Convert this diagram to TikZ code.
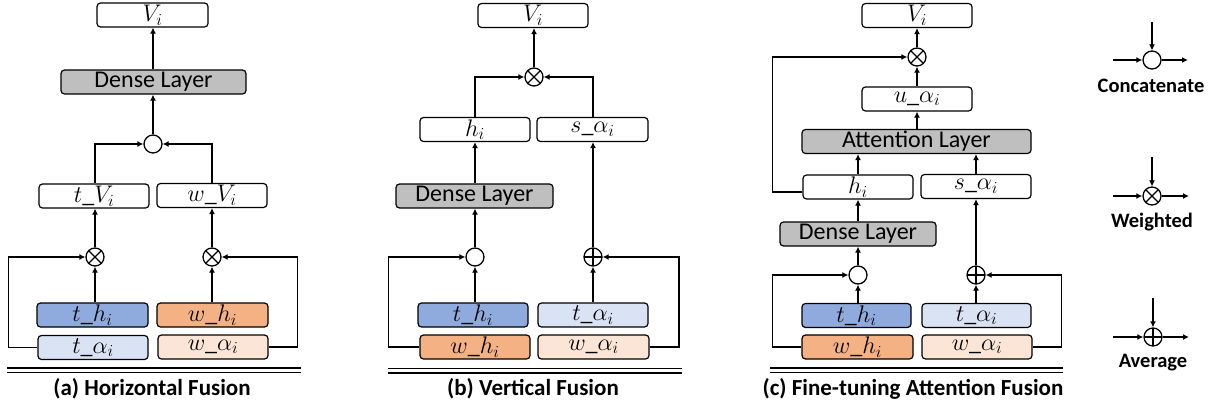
\RequirePackage{fix-cm}
\documentclass[tikz,border=0pt]{standalone}
\usepackage{fontspec}
\setmainfont{Carlito}
\usetikzlibrary{arrows.meta,calc}
\definecolor{thc}{HTML}{8FAADC}
\definecolor{whc}{HTML}{F4B183}
\definecolor{tac}{HTML}{DAE3F3}
\definecolor{wac}{HTML}{FBE5D6}
\definecolor{dlc}{HTML}{BFBFBF}
\tikzset{
  bx/.style={draw, line width=1.2pt, rounded corners=3.5pt, minimum height=24pt, inner sep=0pt, fill=white,
    font=\fontsize{24}{24}\selectfont},
  op/.style={draw, circle, line width=1.3pt, minimum size=18pt, inner sep=0pt, fill=white},
  wt/.style={op, path picture={\draw[line width=1.3pt] (path picture bounding box.north west) -- (path picture bounding box.south east) (path picture bounding box.north east) -- (path picture bounding box.south west);}},
  av/.style={op, path picture={\draw[line width=1.3pt] (path picture bounding box.north) -- (path picture bounding box.south) (path picture bounding box.east) -- (path picture bounding box.west);}},
  arr/.style={line width=1.5pt, -{Latex[length=6pt,width=6pt]}},
  captxt/.style={font=\bfseries\fontsize{23}{23}\selectfont},
  legtxt/.style={font=\bfseries\fontsize{20.5}{20.5}\selectfont},
  dbl/.style={line width=1.3pt},
}
\begin{document}
\begin{tikzpicture}[x=1pt,y=-1pt]
\useasboundingbox (0,0) rectangle (1217,410);

% ===== (a) Horizontal Fusion =====
\node[bx, minimum width=111pt] (Va) at (152.5,15) {$V_i$};
\node[bx, minimum width=185pt, fill=dlc] (densea) at (153.5,82) {Dense Layer};
\node[op] (ca) at (153,144) {};
\node[bx, minimum width=110pt] (tVa) at (94,196) {$t\_V_i$};
\node[bx, minimum width=110pt] (wVa) at (212,195.5) {$w\_V_i$};
\node[wt] (xa1) at (95,257) {};
\node[wt] (xa2) at (212,257) {};
\node[bx, minimum width=111pt, fill=thc] (tha) at (92.5,315) {$t\_h_i$};
\node[bx, minimum width=111pt, fill=whc] (wha) at (212.5,315) {$w\_h_i$};
\node[bx, minimum width=110pt, fill=tac] (taa) at (93,347.5) {$t\_\alpha_i$};
\node[bx, minimum width=110pt, fill=wac] (waa) at (213,347) {$w\_\alpha_i$};

\draw[arr] (xa1 |- tha.north) -- (xa1);
\draw[arr] (xa2 |- wha.north) -- (xa2);
\draw[arr] (xa1) -- (xa1 |- tVa.south);
\draw[arr] (xa2) -- (xa2 |- wVa.south);
\draw[arr] (taa.west) -- ++(-29,0) |- (xa1);
\draw[arr] (waa.east) -- ++(29,0) |- (xa2);
\draw[arr] (xa1 |- tVa.north) |- (ca);
\draw[arr] (xa2 |- wVa.north) |- (ca);
\draw[arr] (ca) -- (ca |- densea.south);
\draw[arr] (ca |- densea.north) -- (ca |- Va.south);

\coordinate (la1) at (7,368); \coordinate (la2) at (301,368);
\draw[dbl] (la1) -- (la2);
\draw[dbl] ($(la1)+(0,4.5)$) -- ($(la2)+(0,4.5)$);
\node[captxt] (capa) at (152,389) {(a) Horizontal Fusion};

% ===== (b) Vertical Fusion =====
\node[bx, minimum width=110pt] (Vb) at (533,15.5) {$V_i$};
\node[wt] (xb) at (534,77) {};
\node[bx, minimum width=110pt] (hb) at (475,129.5) {$h_i$};
\node[bx, minimum width=111pt] (sb) at (592.5,129.5) {$s\_\alpha_i$};
\node[bx, minimum width=157pt, fill=dlc] (denseb) at (474.5,196) {Dense Layer};
\node[op] (cb) at (475,257) {};
\node[av] (ab) at (593,257) {};
\node[bx, minimum width=110pt, fill=thc] (thb) at (473,315) {$t\_h_i$};
\node[bx, minimum width=110pt, fill=tac] (tab) at (593,315) {$t\_\alpha_i$};
\node[bx, minimum width=110pt, fill=whc] (whb) at (475,347) {$w\_h_i$};
\node[bx, minimum width=111pt, fill=wac] (wab) at (593.5,347) {$w\_\alpha_i$};

\draw[arr] (cb |- thb.north) -- (cb);
\draw[arr] (ab |- tab.north) -- (ab);
\draw[arr] (whb.west) -- ++(-31,0) |- (cb);
\draw[arr] (wab.east) -- ++(29.5,0) |- (ab);
\draw[arr] (cb) -- (cb |- denseb.south);
\draw[arr] (ab) -- (ab |- sb.south);
\draw[arr] (cb |- denseb.north) -- (cb |- hb.south);
\draw[arr] (cb |- hb.north) |- (xb);
\draw[arr] (ab |- sb.north) |- (xb);
\draw[arr] (xb) -- (xb |- Vb.south);

\coordinate (lb1) at (388,368.5); \coordinate (lb2) at (682,368.5);
\draw[dbl] (lb1) -- (lb2);
\draw[dbl] ($(lb1)+(0,4.5)$) -- ($(lb2)+(0,4.5)$);
\node[captxt] (capb) at (533,389) {(b) Vertical Fusion};

% ===== (c) Fine-tuning Attention Fusion =====
\node[bx, minimum width=110pt] (Vc) at (917,15.5) {$V_i$};
\node[wt] (xc) at (917,57) {};
\node[bx, minimum width=110pt] (uc) at (917,99) {$u\_\alpha_i$};
\node[bx, minimum width=229pt, fill=dlc] (attc) at (916.5,141.5) {Attention Layer};
\node[bx, minimum width=110pt] (hc) at (858,187) {$h_i$};
\node[bx, minimum width=110pt] (sc) at (976,186.5) {$s\_\alpha_i$};
\node[bx, minimum width=156pt, fill=dlc] (densec) at (858,234) {Dense Layer};
\node[op] (cc) at (858,275) {};
\node[av] (ac) at (976,275) {};
\node[bx, minimum width=109pt, fill=thc] (thcn) at (856.5,315.5) {$t\_h_i$};
\node[bx, minimum width=109pt, fill=tac] (tacn) at (976.5,315.5) {$t\_\alpha_i$};
\node[bx, minimum width=111pt, fill=whc] (whcn) at (857.5,347) {$w\_h_i$};
\node[bx, minimum width=110pt, fill=wac] (wacn) at (977,347) {$w\_\alpha_i$};

\draw[arr] (cc |- thcn.north) -- (cc);
\draw[arr] (ac |- tacn.north) -- (ac);
\draw[arr] (whcn.west) -- ++(-29,0) |- (cc);
\draw[arr] (wacn.east) -- ++(29,0) |- (ac);
\draw[arr] (cc) -- (cc |- densec.south);
\draw[arr] (ac) -- (ac |- sc.south);
\draw[arr] (cc |- densec.north) -- (cc |- hc.south);
\draw[arr] (cc |- hc.north) -- (cc |- attc.south);
\draw[arr] (ac |- sc.north) -- (ac |- attc.south);
\draw[arr] (xc |- attc.north) -- (uc.south);
\draw[arr] (uc) -- (xc);
\draw[arr] (xc) -- (Vc.south);
\draw[arr] ($(hc.west)+(0,5)$) -- ++(-30,0) |- (xc);

\coordinate (lc1) at (770,368); \coordinate (lc2) at (1063,368);
\draw[dbl] (lc1) -- (lc2);
\draw[dbl] ($(lc1)+(0,4.5)$) -- ($(lc2)+(0,4.5)$);
\node[captxt] (capc) at (913,389) {(c) Fine-tuning Attention Fusion};

% ===== Legend =====
\node[op] (lg1) at (1152,60) {};
\coordinate (lg1t) at (1152,22);
\coordinate (lg1l) at (1113,60);
\coordinate (lg1r) at (1188,60);
\draw[arr] (lg1t) -- (lg1);
\draw[arr] (lg1l) -- (lg1);
\draw[arr] (lg1) -- (lg1r);
\node[legtxt] (lt1) at (1151,86) {Concatenate};

\node[wt] (lg2) at (1152,196) {};
\coordinate (lg2t) at (1152,157);
\coordinate (lg2l) at (1113,196);
\coordinate (lg2r) at (1189,196);
\draw[arr] (lg2t) -- (lg2);
\draw[arr] (lg2l) -- (lg2);
\draw[arr] (lg2) -- (lg2r);
\node[legtxt] (lt2) at (1152,222) {Weighted};

\node[av] (lg3) at (1153,337) {};
\coordinate (lg3t) at (1153,298);
\coordinate (lg3l) at (1113,337);
\coordinate (lg3r) at (1189,337);
\draw[arr] (lg3t) -- (lg3);
\draw[arr] (lg3l) -- (lg3);
\draw[arr] (lg3) -- (lg3r);
\node[legtxt] (lt3) at (1153,363) {Average};
\end{tikzpicture}
\end{document}
